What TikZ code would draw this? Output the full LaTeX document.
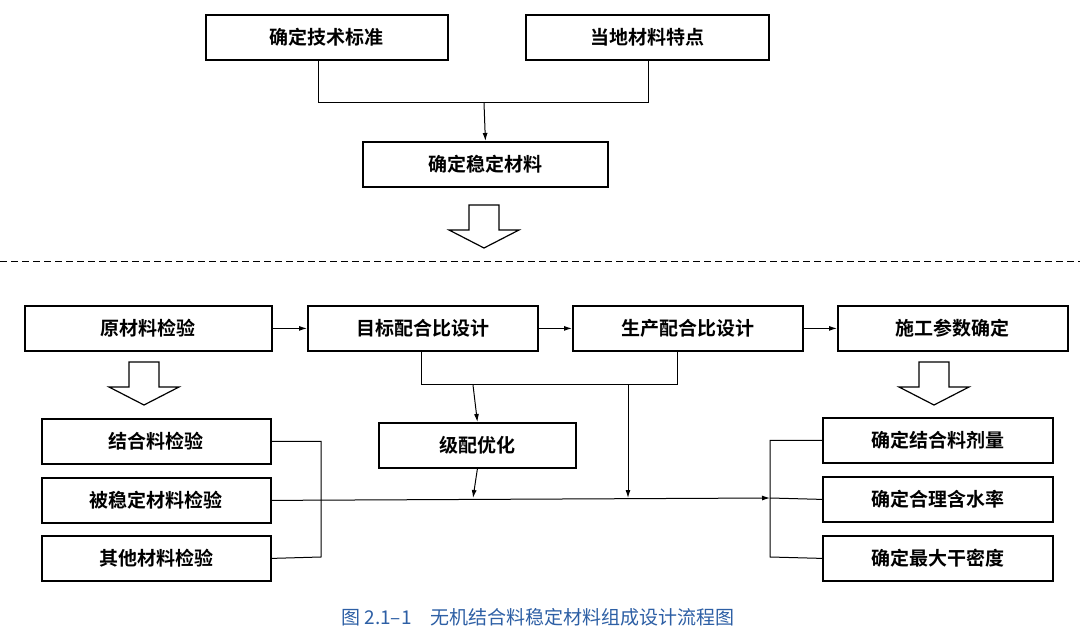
\documentclass[tikz,border=0pt]{standalone}
\usepackage{fontspec}
\newfontfamily\cjk{Noto Sans CJK SC}
\newfontfamily\cjkb{Noto Sans CJK SC Bold}
\usetikzlibrary{arrows.meta}
\definecolor{cap}{RGB}{45,95,165}
\tikzset{
  bx/.style={draw, line width=1.8pt, minimum height=45pt, inner sep=0pt, font=\cjkb\fontsize{19}{19}\selectfont, anchor=north west},
  ln/.style={line width=1pt},
  ar/.style={line width=1pt, -{Latex[length=8pt,width=5pt]}},
  hol/.style={draw, line width=1.2pt, fill=white}
}
\newcommand{\hollow}[3]{% cx, top y, bottom y
  \draw[hol] (#1-15,#2) -- (#1+15,#2) -- (#1+15,#3-18) -- (#1+35,#3-18) -- (#1,#3) -- (#1-35,#3-18) -- (#1-15,#3-18) -- cycle;}
\begin{document}
\begin{tikzpicture}[x=1pt,y=-1pt]
\useasboundingbox (0,0) rectangle (1080,636);
\fill[white] (0,0) rectangle (1080,636);
% top
\node[bx, minimum width=242pt] (ts) at (205,14) {确定技术标准};
\node[bx, minimum width=243pt] (dd) at (525,14) {当地材料特点};
\node[bx, minimum width=245pt] (ws) at (362,141) {确定稳定材料};
\coordinate (j1) at (484,103);
\draw[ln] (318,60) |- (648,103) -- (648,60);
\draw[ar] (j1) -- (ws.north);
\hollow{484}{205}{248}
\draw[dashed, line width=1pt, dash pattern=on 7pt off 4pt] (0,262) -- (1080,262);
% row 1
\node[bx, minimum width=247pt] (yc) at (24,305) {原材料检验};
\node[bx, minimum width=230pt] (mb) at (307,305) {目标配合比设计};
\node[bx, minimum width=230pt] (sc) at (572,305) {生产配合比设计};
\node[bx, minimum width=230pt] (sg) at (837,305) {施工参数确定};
\draw[ar] (yc.east) -- (mb.west);
\draw[ar] (mb.east) -- (sc.west);
\draw[ar] (sc.east) -- (sg.west);
\hollow{144}{362}{405}
\hollow{934}{362}{405}
% left column
\node[bx, minimum width=229pt] (jh) at (41,418) {结合料检验};
\node[bx, minimum width=229pt] (bw) at (41,477) {被稳定材料检验};
\node[bx, minimum width=229pt] (qt) at (41,535) {其他材料检验};
\node[bx, minimum width=197pt] (jp) at (378,422) {级配优化};
% right column
\node[bx, minimum width=230pt] (r1) at (822,417) {确定结合料剂量};
\node[bx, minimum width=230pt] (r2) at (822,476) {确定合理含水率};
\node[bx, minimum width=230pt] (r3) at (822,535) {确定最大干密度};
% connectors
\draw[ln] (421,351) |- (677,385) -- (677,351);
\draw[ar] (473,385) -- (jp.north);
\draw[ar] (628,385) -- (628,498);
\draw[ar] (jp.south) -- (473,498);
\draw[ln] (jh.east) -| (321,557) -- (qt.east);
\coordinate (rj) at (770,498);
\draw[ar] (bw.east) -- (rj);
\draw[ln] (r1.west) -| (770,557) -- (r3.west);
\draw[ln] (rj) -- (r2.west);
% caption
\node[font=\cjk\fontsize{19}{19}\selectfont, text=cap] (capt) at (538,617) {图 2.1–1\quad 无机结合料稳定材料组成设计流程图};
\end{tikzpicture}
\end{document}
